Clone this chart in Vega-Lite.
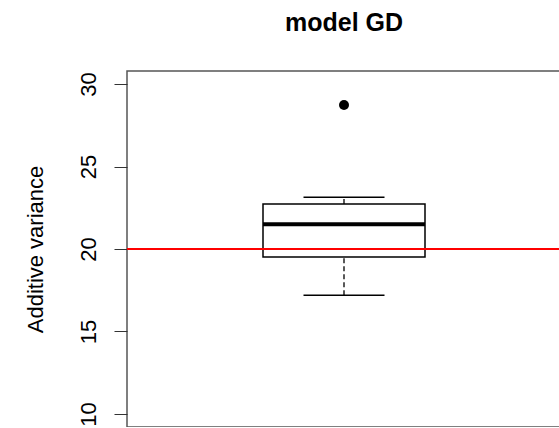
{
  "$schema": "https://vega.github.io/schema/vega-lite/v6.json",
  "width": 434,
  "height": 356,
  "autosize": {"type": "none"},
  "padding": {"left": 127, "top": 71, "right": 0, "bottom": 0},
  "background": "white",
  "config": {
    "view": {"stroke": "#555555", "strokeWidth": 1.5},
    "font": "Liberation Sans",
    "axisY": {
      "domain": false,
      "grid": false,
      "tickSize": 13,
      "tickWidth": 1,
      "tickColor": "#333333",
      "labelAngle": 270,
      "labelAlign": "center",
      "labelBaseline": "alphabetic",
      "labelPadding": 19,
      "labelFontSize": 22,
      "labelColor": "black",
      "labelFont": "Liberation Sans",
      "titleFont": "Liberation Sans",
      "titleFontSize": 22,
      "titleFontWeight": "normal",
      "titleColor": "black",
      "titleAngle": 270,
      "titleAlign": "center",
      "titleBaseline": "alphabetic",
      "titleX": -85,
      "titleY": 178
    }
  },
  "title": {
    "text": "model GD",
    "fontSize": 25,
    "fontWeight": "bold",
    "font": "Liberation Sans",
    "color": "black",
    "frame": "group",
    "anchor": "middle",
    "baseline": "alphabetic",
    "offset": 15
  },
  "datasets": {
    "box": [{"group": 1, "lower": 17.2, "q1": 19.52, "median": 21.5, "q3": 22.73, "upper": 23.13}],
    "outliers": [{"group": 1, "value": 28.73}],
    "ref": [{"value": 20}]
  },
  "layer": [
    {
      "data": {"name": "box"},
      "mark": {"type": "rule", "color": "black", "strokeWidth": 1.3, "strokeDash": [5, 3]},
      "encoding": {
        "x": {"field": "group", "type": "quantitative", "scale": {"domain": [0, 2]}, "axis": null},
        "y": {
          "field": "lower", "type": "quantitative",
          "scale": {"domain": [9.21, 30.79], "nice": false, "zero": false},
          "title": "Additive variance",
          "axis": {"values": [10, 15, 20, 25, 30]}
        },
        "y2": {"field": "q1"}
      }
    },
    {
      "data": {"name": "box"},
      "mark": {"type": "rule", "color": "black", "strokeWidth": 1.3, "strokeDash": [5, 3]},
      "encoding": {
        "x": {"field": "group", "type": "quantitative"},
        "y": {"field": "q3", "type": "quantitative", "title": "Additive variance"},
        "y2": {"field": "upper"}
      }
    },
    {
      "data": {"name": "box"},
      "mark": {"type": "tick", "orient": "horizontal", "size": 81, "thickness": 1.5, "color": "black", "opacity": 1},
      "encoding": {
        "x": {"field": "group", "type": "quantitative"},
        "y": {"field": "lower", "type": "quantitative", "title": "Additive variance"}
      }
    },
    {
      "data": {"name": "box"},
      "mark": {"type": "tick", "orient": "horizontal", "size": 81, "thickness": 1.5, "color": "black", "opacity": 1},
      "encoding": {
        "x": {"field": "group", "type": "quantitative"},
        "y": {"field": "upper", "type": "quantitative", "title": "Additive variance"}
      }
    },
    {
      "data": {"name": "box"},
      "mark": {"type": "bar", "width": 162, "fill": "white", "stroke": "black", "strokeWidth": 1.5, "opacity": 1},
      "encoding": {
        "x": {"field": "group", "type": "quantitative"},
        "y": {"field": "q1", "type": "quantitative", "title": "Additive variance"},
        "y2": {"field": "q3"}
      }
    },
    {
      "data": {"name": "box"},
      "mark": {"type": "tick", "orient": "horizontal", "size": 162, "thickness": 4, "color": "black", "opacity": 1},
      "encoding": {
        "x": {"field": "group", "type": "quantitative"},
        "y": {"field": "median", "type": "quantitative", "title": "Additive variance"}
      }
    },
    {
      "data": {"name": "ref"},
      "mark": {"type": "rule", "color": "#ff0000", "strokeWidth": 2},
      "encoding": {
        "y": {"field": "value", "type": "quantitative", "title": "Additive variance"}
      }
    },
    {
      "data": {"name": "outliers"},
      "mark": {"type": "point", "shape": "circle", "filled": true, "size": 100, "color": "black", "opacity": 1},
      "encoding": {
        "x": {"field": "group", "type": "quantitative"},
        "y": {"field": "value", "type": "quantitative", "title": "Additive variance"}
      }
    }
  ]
}
